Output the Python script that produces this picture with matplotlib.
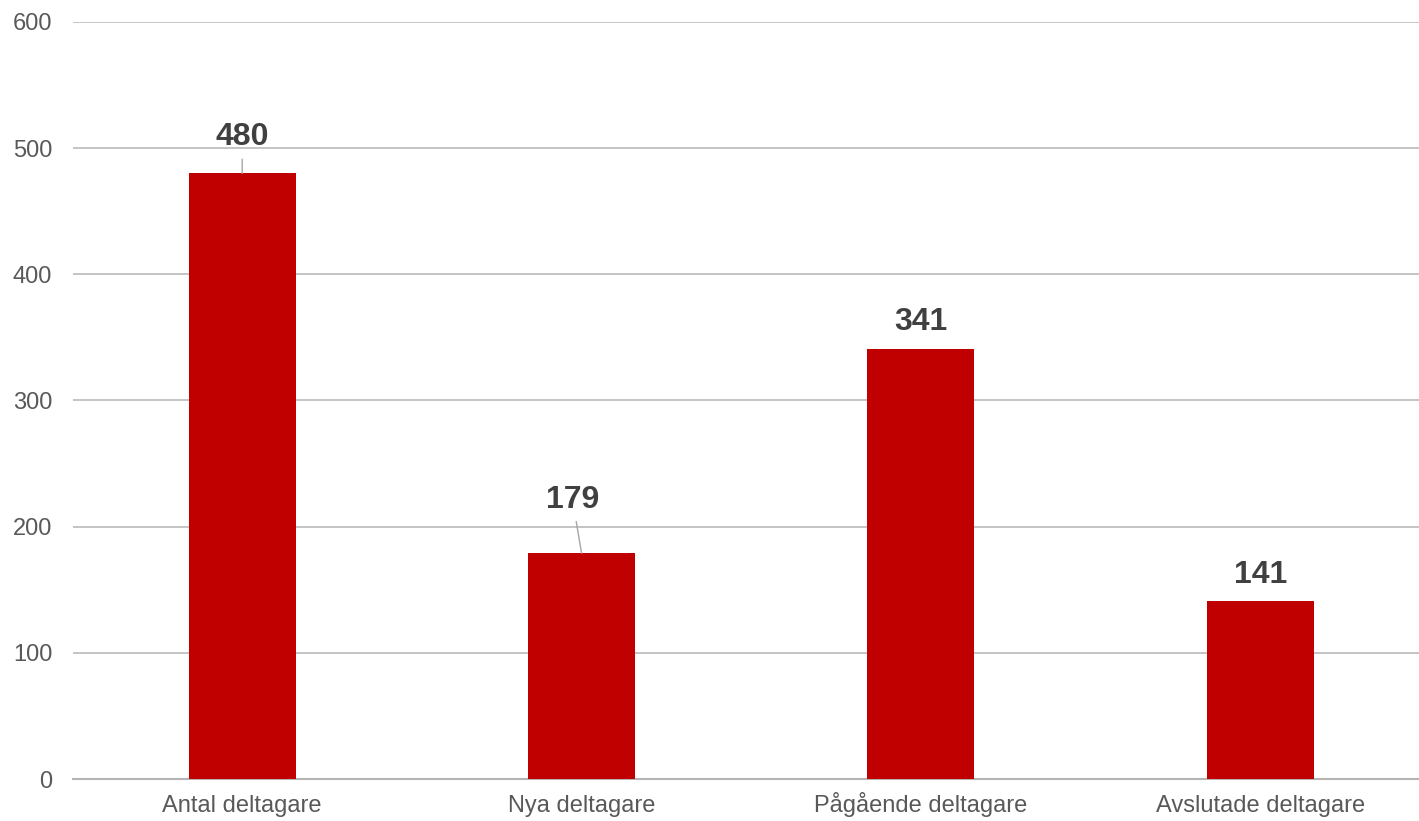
import matplotlib
matplotlib.use("Agg")
import matplotlib.pyplot as plt

# data
kategorier = ["Antal deltagare", "Nya deltagare", "Pågående deltagare", "Avslutade deltagare"]
antal = [480, 179, 341, 141]

# label offsets (points) for value labels
etikett_dx = [0, -6.5, 0, 0]
etikett_dy = [26, 38.5, 19, 19]
med_linje = [True, True, False, False]

plt.rcParams['font.family'] = ['Liberation Sans', 'DejaVu Sans']

fig = plt.figure(figsize=(14.19, 8.21), dpi=100)
ax = fig.add_axes([72.5 / 1419, 1 - 779 / 821, (1430 - 72.5) / 1419, (779 - 22) / 821])

x = range(len(kategorier))
ax.bar(x, antal, width=0.315, color="#c00000", zorder=3)

for i, v in enumerate(antal):
    pil = None
    if med_linje[i]:
        pil = dict(arrowstyle="-", color="#a6a6a6", lw=1, shrinkA=3, shrinkB=0)
    ax.annotate(str(v), xy=(i, v), xytext=(etikett_dx[i], etikett_dy[i]),
                textcoords="offset points", ha="center", va="center",
                fontsize=23, fontweight="bold", color="#404040",
                arrowprops=pil, zorder=4)

ax.set_xlim(-0.5, 3.5)
ax.set_ylim(0, 600)
ax.set_yticks(range(0, 601, 100))
ax.set_xticks(list(x))
ax.set_xticklabels(kategorier, va="baseline")
ax.yaxis.grid(True, color="#c4c4c4", lw=1.4, zorder=0)
ax.set_axisbelow(True)
for s in ["top", "right", "left"]:
    ax.spines[s].set_visible(False)
ax.spines["bottom"].set_color("#b4b4b4")
ax.spines["bottom"].set_linewidth(1.5)
ax.tick_params(axis="y", length=0, pad=14.5, labelsize=17, labelcolor="#595959")
ax.tick_params(axis="x", length=0, pad=24, labelsize=17, labelcolor="#595959")

fig.savefig("out.png", dpi=100)
